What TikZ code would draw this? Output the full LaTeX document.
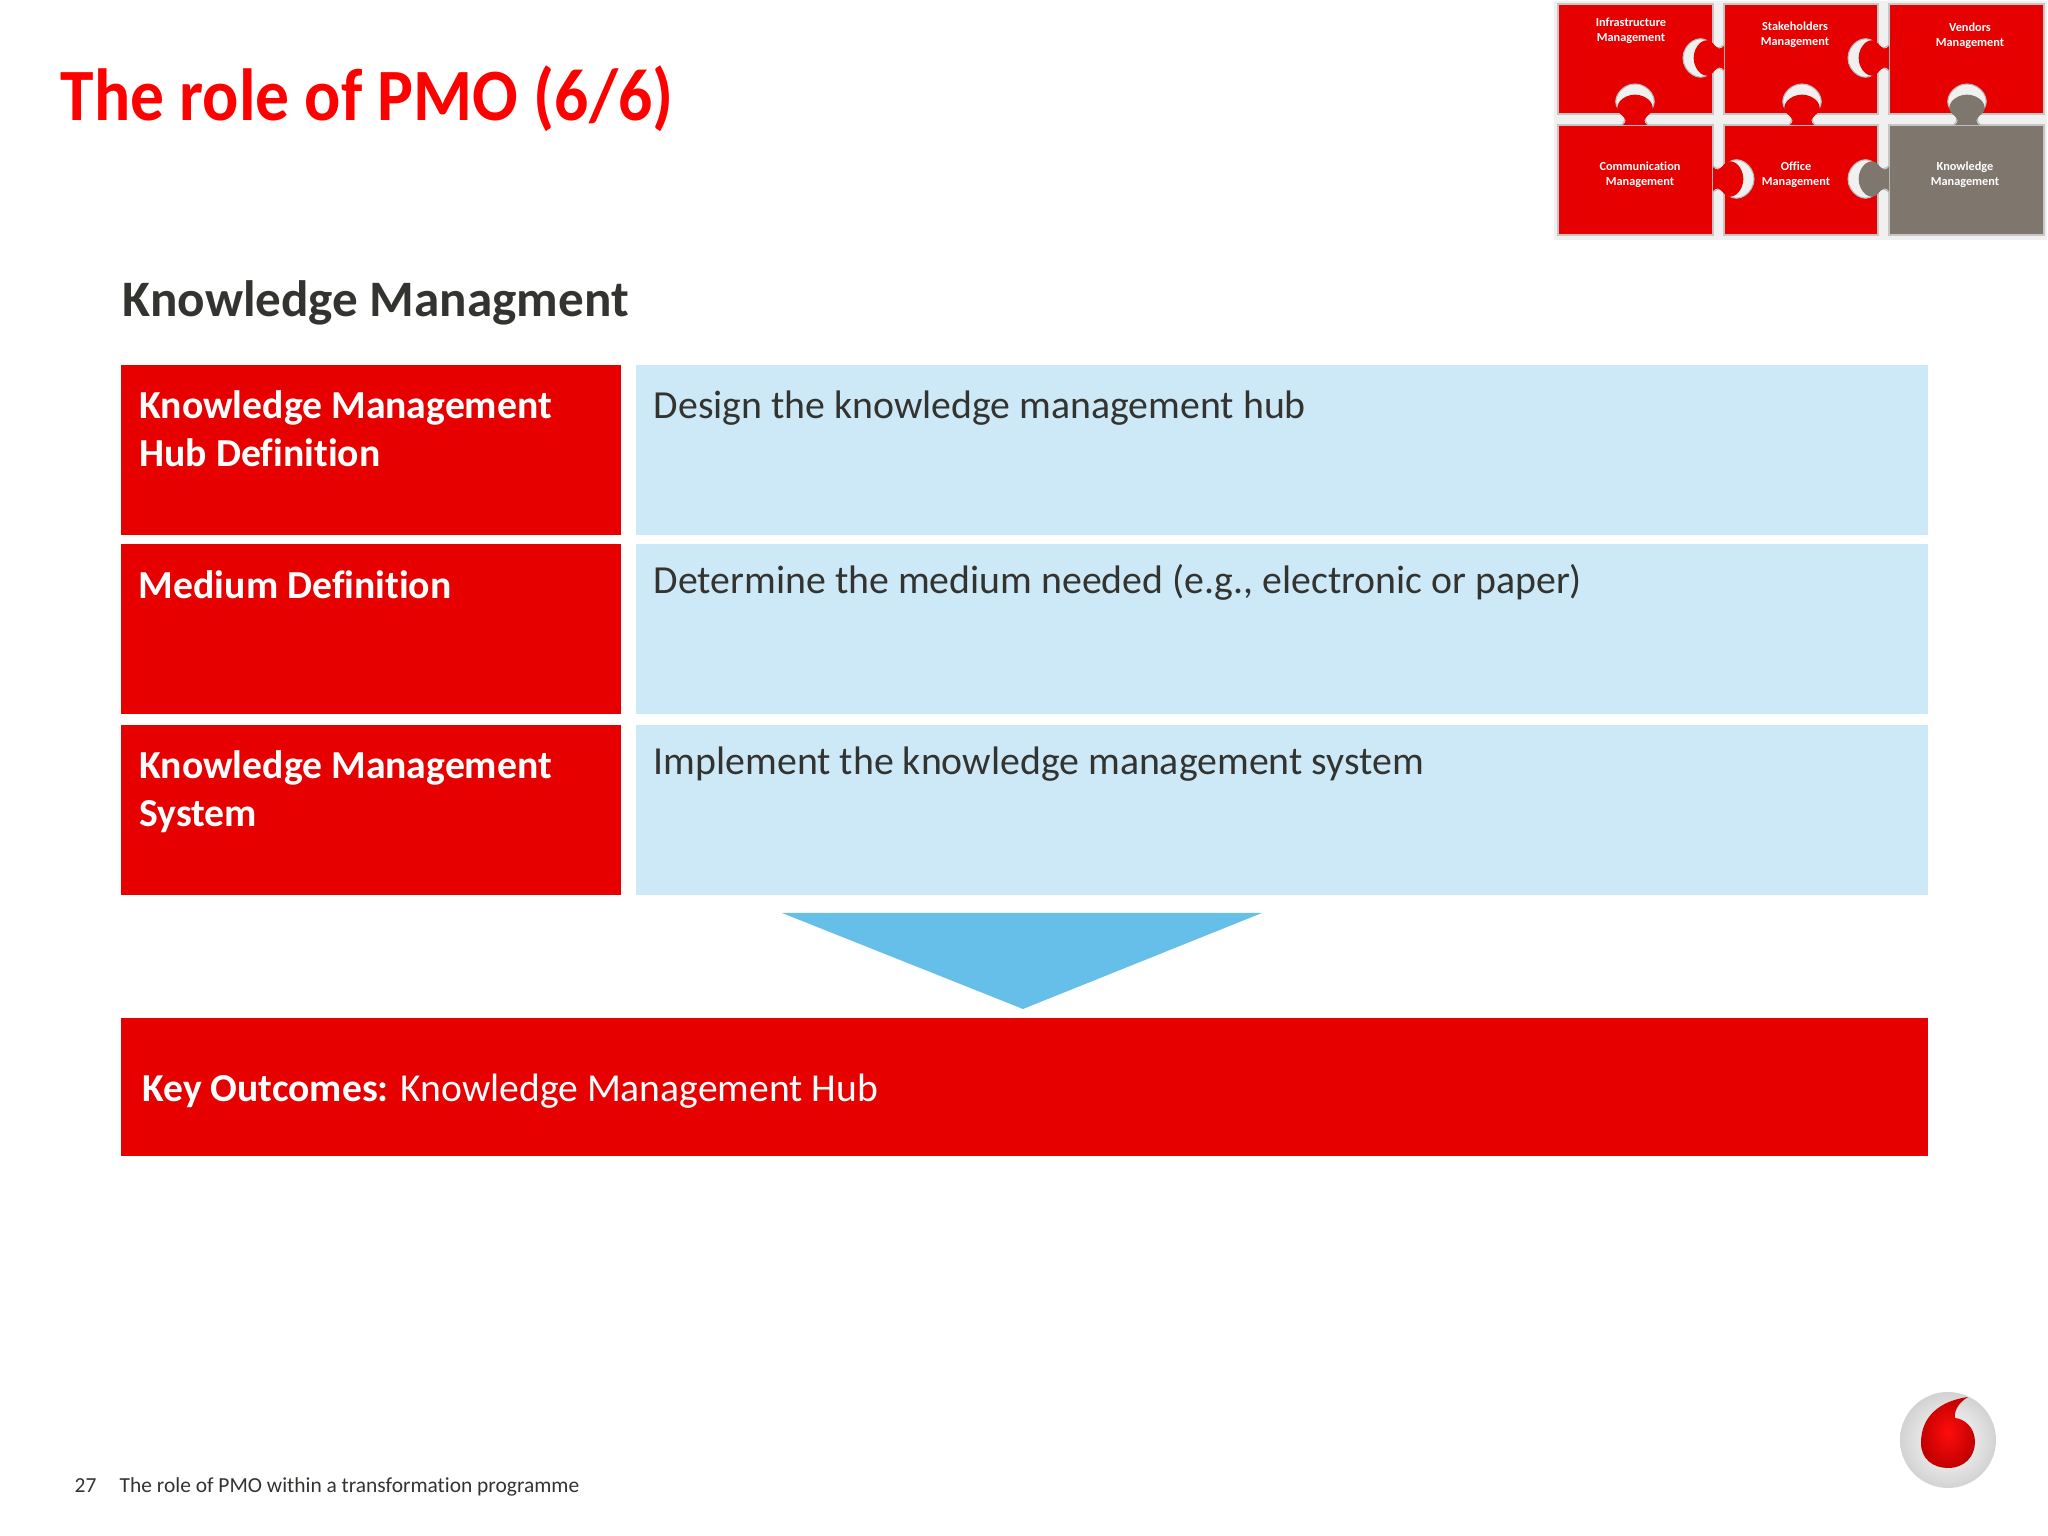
\documentclass[tikz,border=0pt]{standalone}
\usepackage{fontspec}
\setmainfont[Ligatures=NoCommon]{Carlito}
\usetikzlibrary{positioning}
\definecolor{vfred}{HTML}{E60000}
\definecolor{titlered}{HTML}{FF0000}
\definecolor{paleblue}{HTML}{CDE8F6}
\definecolor{arrowblue}{HTML}{65BFE8}
\definecolor{darktext}{HTML}{333330}
\definecolor{piecegrey}{HTML}{7F776E}
\definecolor{gapgrey}{HTML}{F0F0F0}
\tikzset{
	redbox/.style={rectangle,fill=vfred,anchor=north west,inner sep=0pt,minimum width=5cm,minimum height=1.7cm},
	bluebox/.style={rectangle,fill=paleblue,anchor=north west,inner sep=0pt,minimum width=12.92cm,minimum height=1.7cm},
	boxhead/.style={anchor=north west,align=left,text=white,font=\fontsize{11.3}{13.6}\selectfont\bfseries},
	boxtext/.style={anchor=north west,align=left,text=darktext,font=\fontsize{11.32}{13.6}\selectfont},
	piecetext/.style={align=center,text=white,font=\fontsize{3.5}{4.3}\selectfont\bfseries}
}
\newcommand{\tabpath}{(-0.13,0) .. controls (-0.09,0.05) and (-0.09,0.08) .. (-0.16,0.15) .. controls (-0.25,0.25) and (-0.14,0.41) .. (0,0.41) .. controls (0.14,0.41) and (0.25,0.25) .. (0.16,0.15) .. controls (0.09,0.08) and (0.09,0.05) .. (0.13,0) -- cycle}
\newcommand{\puzzletab}[4]{
	\begin{scope}[shift={(#1,#2)},rotate=#3]
		\fill[gapgrey,draw=gray!55,line width=0.3pt] \tabpath;
		\fill[#4,xscale=0.92,yscale=0.74] \tabpath;
	\end{scope}
}
\begin{document}
\begin{tikzpicture}
	\useasboundingbox (0,0) rectangle (20.48,15.36);
	\node[anchor=base west,inner sep=0pt,text=titlered,xscale=0.915,font=\fontsize{21}{25}\selectfont\bfseries] (title) at (0.6,14.15) {The role of PMO (6/6)};
	\node[anchor=base west,inner sep=0pt,text=darktext,font=\fontsize{14.55}{18}\selectfont\bfseries] (subtitle) at (1.22,12.19) {Knowledge Managment};
	% puzzle
	\fill[gapgrey] (15.54,12.96) rectangle (20.47,15.35);
	\foreach \x/\w in {15.58/1.55,17.24/1.54,18.89/1.55} {
		\fill[vfred,draw=gray!45,line width=0.3pt] (\x,14.22) rectangle ++(\w,1.1);
	}
	\foreach \x/\w in {15.58/1.55,17.24/1.54} {
		\fill[vfred,draw=gray!45,line width=0.3pt] (\x,13.01) rectangle ++(\w,1.1);
	}
	\fill[piecegrey,draw=gray!45,line width=0.3pt] (18.89,13.01) rectangle ++(1.55,1.1);
	\puzzletab{17.24}{14.78}{90}{vfred}
	\puzzletab{18.89}{14.78}{90}{vfred}
	\puzzletab{16.35}{14.11}{0}{vfred}
	\puzzletab{18.02}{14.11}{0}{vfred}
	\puzzletab{19.67}{14.11}{0}{piecegrey}
	\puzzletab{17.13}{13.57}{-90}{vfred}
	\puzzletab{18.89}{13.57}{90}{piecegrey}
	\node[piecetext] (infra) at (16.31,15.05) {Infrastructure\\Management};
	\node[piecetext] (stake) at (17.95,15.01) {Stakeholders\\Management};
	\node[piecetext] (vendors) at (19.70,15.00) {Vendors\\Management};
	\node[piecetext] (comm) at (16.40,13.61) {Communication\\Management};
	\node[piecetext] (office) at (17.96,13.61) {Office\\Management};
	\node[piecetext] (know) at (19.65,13.61) {Knowledge\\Management};
	% table
	\node[redbox] (hub) at (1.205,11.72) {};
	\node[redbox] (medium) at (1.205,9.93) {};
	\node[redbox] (system) at (1.205,8.12) {};
	\node[bluebox] (design) at (6.355,11.72) {};
	\node[bluebox] (determine) at (6.355,9.93) {};
	\node[bluebox] (implement) at (6.355,8.12) {};
	\node[boxhead] (hubtext) at (1.27,11.58) {Knowledge Management\\Hub Definition};
	\node[boxhead] (mediumtext) at (1.265,9.78) {Medium Definition};
	\node[boxhead] (systemtext) at (1.27,7.98) {Knowledge Management\\System};
	\node[boxtext] (designtext) at (6.415,11.58) {Design the knowledge management hub};
	\node[boxtext] (determinetext) at (6.415,9.84) {Determine the medium needed (e.g., electronic or paper)};
	\node[boxtext] (implementtext) at (6.415,8.02) {Implement the knowledge management system};
	\fill[arrowblue] (7.82,6.23) -- (12.62,6.23) -- (10.23,5.27) -- cycle;
	\node[rectangle,fill=vfred,anchor=north west,inner sep=0pt,minimum width=18.07cm,minimum height=1.38cm] (outcome) at (1.205,5.19) {};
	\node[anchor=base west,inner sep=0pt,text=white,font=\fontsize{11.27}{13.4}\selectfont] (outcometext) at (1.42,4.34) {\textbf{Key Outcomes:} Knowledge Management Hub};
	% footer
	\node[anchor=base west,inner sep=0pt,text=darktext,font=\fontsize{6.1}{8}\selectfont] (page) at (0.74,0.43) {27};
	\node[anchor=base west,inner sep=0pt,text=darktext,font=\fontsize{6.1}{8}\selectfont] (footer) at (1.19,0.43) {The role of PMO within a transformation programme};
	% logo
	\shade[inner color=white,outer color=gray!35] (19.48,0.96) circle (0.48);
	\shade[inner color=red!95!white,outer color=vfred!85!black] (19.68,1.39) .. controls (19.4,1.35) and (19.21,1.2) .. (19.21,0.93) .. controls (19.21,0.77) and (19.33,0.68) .. (19.48,0.68) .. controls (19.65,0.68) and (19.75,0.8) .. (19.75,0.94) .. controls (19.75,1.08) and (19.65,1.17) .. (19.55,1.18) .. controls (19.54,1.27) and (19.6,1.34) .. (19.68,1.39) -- cycle;
\end{tikzpicture}
\end{document}
